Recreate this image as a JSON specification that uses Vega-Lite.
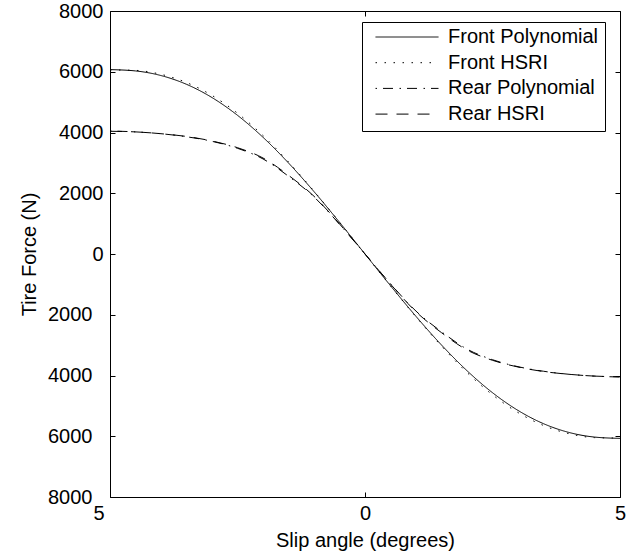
{
  "$schema": "https://vega.github.io/schema/vega-lite/v6.json",
  "autosize": "none",
  "width": 510,
  "height": 486,
  "padding": {"left": 110, "top": 11, "right": 23, "bottom": 62},
  "background": "white",
  "data": {
    "values": [
      {"slip": -5, "force": 6070, "series": "Front Polynomial"},
      {"slip": -4.5, "force": 6027, "series": "Front Polynomial"},
      {"slip": -4, "force": 5875, "series": "Front Polynomial"},
      {"slip": -3.5, "force": 5586, "series": "Front Polynomial"},
      {"slip": -3, "force": 5150, "series": "Front Polynomial"},
      {"slip": -2.5, "force": 4566, "series": "Front Polynomial"},
      {"slip": -2, "force": 3842, "series": "Front Polynomial"},
      {"slip": -1.5, "force": 2996, "series": "Front Polynomial"},
      {"slip": -1, "force": 2054, "series": "Front Polynomial"},
      {"slip": -0.5, "force": 1044, "series": "Front Polynomial"},
      {"slip": 0, "force": 0, "series": "Front Polynomial"},
      {"slip": 0.5, "force": -1044, "series": "Front Polynomial"},
      {"slip": 1, "force": -2054, "series": "Front Polynomial"},
      {"slip": 1.5, "force": -2996, "series": "Front Polynomial"},
      {"slip": 2, "force": -3842, "series": "Front Polynomial"},
      {"slip": 2.5, "force": -4566, "series": "Front Polynomial"},
      {"slip": 3, "force": -5150, "series": "Front Polynomial"},
      {"slip": 3.5, "force": -5586, "series": "Front Polynomial"},
      {"slip": 4, "force": -5875, "series": "Front Polynomial"},
      {"slip": 4.5, "force": -6027, "series": "Front Polynomial"},
      {"slip": 5, "force": -6070, "series": "Front Polynomial"},

      {"slip": -5, "force": 6060, "series": "Front HSRI"},
      {"slip": -4.5, "force": 6045, "series": "Front HSRI"},
      {"slip": -4, "force": 5915, "series": "Front HSRI"},
      {"slip": -3.5, "force": 5645, "series": "Front HSRI"},
      {"slip": -3, "force": 5220, "series": "Front HSRI"},
      {"slip": -2.5, "force": 4635, "series": "Front HSRI"},
      {"slip": -2, "force": 3900, "series": "Front HSRI"},
      {"slip": -1.5, "force": 3030, "series": "Front HSRI"},
      {"slip": -1, "force": 2070, "series": "Front HSRI"},
      {"slip": -0.5, "force": 1050, "series": "Front HSRI"},
      {"slip": 0, "force": 0, "series": "Front HSRI"},
      {"slip": 0.5, "force": -1050, "series": "Front HSRI"},
      {"slip": 1, "force": -2070, "series": "Front HSRI"},
      {"slip": 1.5, "force": -3030, "series": "Front HSRI"},
      {"slip": 2, "force": -3900, "series": "Front HSRI"},
      {"slip": 2.5, "force": -4635, "series": "Front HSRI"},
      {"slip": 3, "force": -5220, "series": "Front HSRI"},
      {"slip": 3.5, "force": -5645, "series": "Front HSRI"},
      {"slip": 4, "force": -5915, "series": "Front HSRI"},
      {"slip": 4.5, "force": -6045, "series": "Front HSRI"},
      {"slip": 5, "force": -6060, "series": "Front HSRI"},

      {"slip": -5, "force": 4050, "series": "Rear Polynomial"},
      {"slip": -4.5, "force": 4020, "series": "Rear Polynomial"},
      {"slip": -4, "force": 3960, "series": "Rear Polynomial"},
      {"slip": -3.5, "force": 3860, "series": "Rear Polynomial"},
      {"slip": -3, "force": 3710, "series": "Rear Polynomial"},
      {"slip": -2.5, "force": 3480, "series": "Rear Polynomial"},
      {"slip": -2, "force": 3130, "series": "Rear Polynomial"},
      {"slip": -1.5, "force": 2560, "series": "Rear Polynomial"},
      {"slip": -1, "force": 1880, "series": "Rear Polynomial"},
      {"slip": -0.5, "force": 980, "series": "Rear Polynomial"},
      {"slip": 0, "force": 0, "series": "Rear Polynomial"},
      {"slip": 0.5, "force": -980, "series": "Rear Polynomial"},
      {"slip": 1, "force": -1880, "series": "Rear Polynomial"},
      {"slip": 1.5, "force": -2560, "series": "Rear Polynomial"},
      {"slip": 2, "force": -3130, "series": "Rear Polynomial"},
      {"slip": 2.5, "force": -3480, "series": "Rear Polynomial"},
      {"slip": 3, "force": -3710, "series": "Rear Polynomial"},
      {"slip": 3.5, "force": -3860, "series": "Rear Polynomial"},
      {"slip": 4, "force": -3960, "series": "Rear Polynomial"},
      {"slip": 4.5, "force": -4020, "series": "Rear Polynomial"},
      {"slip": 5, "force": -4050, "series": "Rear Polynomial"},

      {"slip": -5, "force": 4040, "series": "Rear HSRI"},
      {"slip": -4.5, "force": 4020, "series": "Rear HSRI"},
      {"slip": -4, "force": 3960, "series": "Rear HSRI"},
      {"slip": -3.5, "force": 3870, "series": "Rear HSRI"},
      {"slip": -3, "force": 3720, "series": "Rear HSRI"},
      {"slip": -2.5, "force": 3500, "series": "Rear HSRI"},
      {"slip": -2, "force": 3160, "series": "Rear HSRI"},
      {"slip": -1.5, "force": 2590, "series": "Rear HSRI"},
      {"slip": -1, "force": 1900, "series": "Rear HSRI"},
      {"slip": -0.5, "force": 990, "series": "Rear HSRI"},
      {"slip": 0, "force": 0, "series": "Rear HSRI"},
      {"slip": 0.5, "force": -990, "series": "Rear HSRI"},
      {"slip": 1, "force": -1900, "series": "Rear HSRI"},
      {"slip": 1.5, "force": -2590, "series": "Rear HSRI"},
      {"slip": 2, "force": -3160, "series": "Rear HSRI"},
      {"slip": 2.5, "force": -3500, "series": "Rear HSRI"},
      {"slip": 3, "force": -3720, "series": "Rear HSRI"},
      {"slip": 3.5, "force": -3870, "series": "Rear HSRI"},
      {"slip": 4, "force": -3960, "series": "Rear HSRI"},
      {"slip": 4.5, "force": -4020, "series": "Rear HSRI"},
      {"slip": 5, "force": -4040, "series": "Rear HSRI"}
    ]
  },
  "layer": [
    {
      "mark": {"type": "line", "color": "black", "strokeWidth": 1, "interpolate": "monotone"},
      "encoding": {
        "x": {
          "field": "slip", "type": "quantitative",
          "scale": {"domain": [-5, 5], "nice": false, "zero": false},
          "axis": {
            "orient": "bottom",
            "values": [-5, 0, 5],
            "title": "Slip angle (degrees)",
            "labelExpr": "format(abs(datum.value), 'd')",
            "labelAlign": {"condition": {"test": "datum.value < 0", "value": "right"}, "value": "center"},
            "labelOffset": {"condition": {"test": "datum.value < 0", "value": -6}, "value": 0},
            "labelPadding": 11,
            "titlePadding": 7
          }
        },
        "y": {
          "field": "force", "type": "quantitative",
          "scale": {"domain": [-8000, 8000], "nice": false},
          "axis": {
            "orient": "left",
            "values": [-8000, -6000, -4000, -2000, 0, 2000, 4000, 6000, 8000],
            "title": "Tire Force (N)",
            "labelExpr": "format(abs(datum.value), 'd')",
            "labelPadding": {"condition": {"test": "datum.value < 0", "value": 23}, "value": 12},
            "titlePadding": 8
          }
        },
        "strokeDash": {
          "field": "series", "type": "nominal",
          "scale": {
            "domain": ["Front Polynomial", "Front HSRI", "Rear Polynomial", "Rear HSRI"],
            "range": [[1, 0], [1.5, 7.5], [1.5, 6, 10, 6.5], [12, 9]]
          },
          "legend": {
            "title": null,
            "orient": "none",
            "legendX": 252,
            "legendY": 11
          }
        }
      }
    },
    {
      "mark": {"type": "line", "strokeOpacity": 0},
      "encoding": {
        "x": {
          "field": "slip", "type": "quantitative",
          "scale": {"domain": [-5, 5], "nice": false, "zero": false},
          "axis": {"orient": "top", "values": [-5, 0, 5], "labels": false, "title": null}
        },
        "y": {
          "field": "force", "type": "quantitative",
          "scale": {"domain": [-8000, 8000], "nice": false},
          "axis": {"orient": "right", "values": [-8000, -6000, -4000, -2000, 0, 2000, 4000, 6000, 8000], "labels": false, "title": null}
        },
        "detail": {"field": "series", "type": "nominal"}
      }
    }
  ],
  "resolve": {"axis": {"x": "independent", "y": "independent"}},
  "config": {
    "view": {"stroke": "black", "strokeWidth": 1},
    "axis": {
      "labelFont": "Liberation Sans",
      "labelFontSize": 20,
      "labelColor": "black",
      "titleFont": "Liberation Sans",
      "titleFontSize": 20,
      "titleFontWeight": "normal",
      "titleColor": "black",
      "grid": false,
      "domain": false,
      "ticks": true,
      "tickColor": "black",
      "tickSize": -5,
      "tickWidth": 1,
      "labelFlush": false,
      "labelOverlap": false
    },
    "legend": {
      "strokeColor": "black",
      "fillColor": "white",
      "padding": 6,
      "symbolType": "stroke",
      "symbolSize": 3969,
      "symbolStrokeWidth": 1,
      "symbolStrokeColor": "black",
      "symbolOffset": 7,
      "labelOffset": 9,
      "labelFont": "Liberation Sans",
      "labelFontSize": 20,
      "labelColor": "black",
      "labelLimit": 300,
      "rowPadding": 5.7,
      "clipHeight": 18
    }
  }
}
